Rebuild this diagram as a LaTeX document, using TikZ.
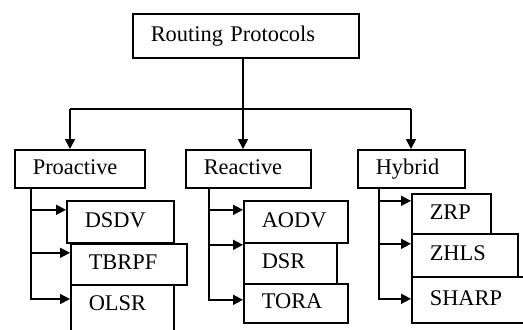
\documentclass[tikz,border=0pt]{standalone}
\usepackage{fontspec}
\setmainfont{Liberation Serif}
\usetikzlibrary{
    arrows.meta, % for the filled arrow tips
    positioning % for placing nodes relative to other nodes
}

\begin{document}
\begin{tikzpicture}[
        x=0.5pt,y=-0.5pt,>={Triangle[length=5pt,width=5pt]},line width=0.8pt,
        every node/.style = {font=\fontsize{11.2}{13}\selectfont},
        box/.style        = {draw,anchor=north west,align=left,inner xsep=9pt,inner ysep=0pt,
                             text height=7.6pt,text depth=2pt,line width=0.8pt}
    ]
    \useasboundingbox (0,0) rectangle (523,329);
    \clip (0,0) rectangle (523,329);

    % root and the three classes
        \node [box,text width=95pt,minimum height=22pt]    (root) at (132,13)  {Routing Protocols};
        \node [box,text width=47pt,minimum height=19pt]    (pro)  at (14,149)  {Proactive};
        \node [box,text width=44.5pt,minimum height=19pt]  (rea)  at (185,149) {Reactive};
        \node [box,text width=35.5pt,minimum height=19pt]  (hyb)  at (357,149) {Hybrid};

    % protocols of each class
        \node [box,text width=35.5pt,minimum height=21pt]  (dsdv)  at (66,200)  {DSDV};
        \node [box,text width=40pt,minimum height=20.5pt]  (tbrpf) at (70,243)  {TBRPF};
        \node [box,text width=33.5pt,text height=13pt,text depth=40pt] (olsr) at (70,284) {OLSR};

        \node [box,text width=34pt,minimum height=21pt]    (aodv)  at (243,200) {AODV};
        \node [box,text width=28.5pt,minimum height=20.5pt] (dsr)  at (243,242) {DSR};
        \node [box,text width=34pt,minimum height=19.5pt]  (tora)  at (243,283) {TORA};

        \node [box,text width=21.5pt,minimum height=20pt]  (zrp)   at (411,193) {ZRP};
        \node [box,text width=35pt,minimum height=21.5pt]  (zhls)  at (411,233) {ZHLS};
        \node [box,text width=41.5pt,minimum height=23pt]  (sharp) at (411,276) {SHARP};

    % bus under the root
        \coordinate (bus)  at (243,109);
        \coordinate (busL) at (70,109);
        \coordinate (busR) at (411,109);
        \draw (root.south -| bus) -- (bus);
        \draw (busL) -- (busR);
        \draw [->] (busL) -- (busL |- pro.north);
        \draw [->] (bus)  -- (bus |- rea.north);
        \draw [->] (busR) -- (busR |- hyb.north);

    % branches to the protocols
        \draw [->] ([xshift=8.5pt]pro.south west) |- ([yshift=6pt]dsdv.west);
        \draw [->] ([xshift=8.5pt]pro.south west) |- ([yshift=5.75pt]tbrpf.west);
        \draw [->] ([xshift=8.5pt]pro.south west) |- (olsr.west |- 0,299);

        \draw [->] ([xshift=12pt]rea.south west) |- ([yshift=6pt]aodv.west);
        \draw [->] ([xshift=12pt]rea.south west) |- ([yshift=9.25pt]dsr.west);
        \draw [->] ([xshift=12pt]rea.south west) |- ([yshift=1.75pt]tora.west);

        \draw [->] ([xshift=11pt]hyb.south west) |- ([yshift=6.5pt]zrp.west);
        \draw [->] ([xshift=11pt]hyb.south west) |- ([yshift=5.75pt]zhls.west);
        \draw [->] ([xshift=11pt]hyb.south west) |- ([yshift=0.5pt]sharp.west);

\end{tikzpicture}
\end{document}
